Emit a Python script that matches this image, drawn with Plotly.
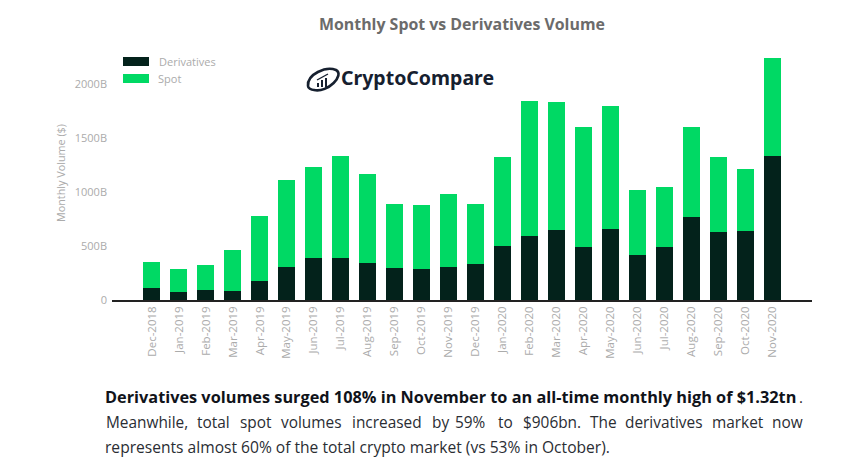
import plotly.graph_objects as go

meses = ['Dec-2018', 'Jan-2019', 'Feb-2019', 'Mar-2019', 'Apr-2019', 'May-2019', 'Jun-2019', 'Jul-2019',
         'Aug-2019', 'Sep-2019', 'Oct-2019', 'Nov-2019', 'Dec-2019', 'Jan-2020', 'Feb-2020', 'Mar-2020',
         'Apr-2020', 'May-2020', 'Jun-2020', 'Jul-2020', 'Aug-2020', 'Sep-2020', 'Oct-2020', 'Nov-2020']
derivatives = [110, 75, 95, 85, 175, 305, 390, 390, 345, 300, 290, 305,
               335, 500, 595, 645, 490, 655, 415, 490, 770, 630, 640, 1330]
spot = [240, 215, 230, 380, 605, 805, 840, 940, 820, 590, 590, 675,
        555, 820, 1245, 1185, 1110, 1145, 605, 555, 830, 690, 570, 910]
y_ticks = [0, 500, 1000, 1500, 2000]
y_labels = ['0', '500B', '1000B', '1500B', '2000B']

# posicao em pixels da imagem -> coordenadas paper
ESQ, DIR, TOPO, BASE = 112, 812, 50, 300
def px(x):
    return (x - ESQ) / (DIR - ESQ)
def py(y):
    return (BASE - y) / (BASE - TOPO)

CINZA = '#ababab'
ESCURO = '#03221b'
VERDE = '#00d964'
LOGO = '#16202f'

fig = go.Figure()
fig.add_bar(x=meses, y=derivatives, name='Derivatives', marker_color=ESCURO, marker_line_width=0)
fig.add_bar(x=meses, y=spot, name='Spot', marker_color=VERDE, marker_line_width=0)

fig.update_layout(
    barmode='stack', bargap=0.37, width=852, height=468, showlegend=False,
    margin=dict(l=ESQ, r=852 - DIR, t=TOPO, b=468 - BASE),
    paper_bgcolor='white', plot_bgcolor='white',
    font=dict(family='Open Sans', color=CINZA, size=11),
)
fig.update_xaxes(type='category', range=[-1.48, 24.48], tickangle=-90, showgrid=False, ticks='',
                 showline=True, linecolor='#222222', linewidth=1.5, tickfont=dict(size=11.5, color=CINZA))
fig.update_yaxes(range=[0, 2315], tickvals=y_ticks, ticktext=y_labels, showgrid=False, zeroline=False,
                 showline=False, ticks='', ticklabelstandoff=4, tickfont=dict(size=11, color=CINZA))

def texto(x, y, t, size, cor, anchor='left', bold=False, familia='Open Sans', angulo=0):
    fig.add_annotation(xref='paper', yref='paper', x=px(x), y=py(y), text=f'<b>{t}</b>' if bold else t,
                       showarrow=False, xanchor=anchor, yanchor='middle', textangle=angulo,
                       borderpad=0, borderwidth=0,
                       font=dict(size=size, color=cor, family=familia))

texto(462.5, 24, 'Monthly Spot vs Derivatives Volume', 15.9, '#6b6b6b', 'center', True)
texto(341, 77.5, 'CryptoCompare', 19.5, LOGO, bold=True, familia='Noto Sans')
texto(60, 173, 'Monthly Volume ($)', 10.8, CINZA, 'center', angulo=-90)

# legenda desenhada a mao, o swatch do plotly nao fica largo
for nome, cor, y0, x_txt in [('Derivatives', ESCURO, 57, 159), ('Spot', VERDE, 74, 158)]:
    fig.add_shape(type='rect', xref='paper', yref='paper', x0=px(123), x1=px(149), y0=py(y0), y1=py(y0 + 9),
                  fillcolor=cor, line_width=0)
    texto(x_txt, y0 + 4.5, nome, 11, CINZA)

# icone do logo
fig.add_shape(type='path', xref='paper', yref='paper', line=dict(color=LOGO, width=2.6),
              path=(f'M {px(308)} {py(86)} C {px(307)} {py(74)}, {px(326)} {py(66)}, {px(336)} {py(70)} '
                    f'C {px(345)} {py(75)}, {px(328)} {py(93)}, {px(314)} {py(90)} '
                    f'C {px(311)} {py(90)}, {px(308)} {py(88)}, {px(308)} {py(86)} Z'))
for x0, x1, y0 in [(317, 319, 83), (321, 323, 80), (325, 327, 78)]:
    fig.add_shape(type='rect', xref='paper', yref='paper', x0=px(x0), x1=px(x1), y0=py(y0), y1=py(87),
                  fillcolor=LOGO, line_width=0)
fig.add_shape(type='line', xref='paper', yref='paper', x0=px(317), y0=py(80), x1=px(328), y1=py(74),
              line=dict(color=LOGO, width=1.4))

# paragrafo abaixo do grafico
texto(105, 397, 'Derivatives volumes surged 108% in November to an all-time monthly high of $1.32tn', 16.3, '#10131a', bold=True)
texto(799, 397, '.', 15, '#222222')
linha2 = ['Meanwhile,', 'total', 'spot', 'volumes', 'increased', 'by', '59%', 'to', '$906bn.', 'The', 'derivatives', 'market', 'now']
linha2_x = [106, 197, 240, 281, 352, 432, 455, 498, 523, 590, 625, 712, 772]
for palavra, x in zip(linha2, linha2_x):
    texto(x, 422, palavra, 15.4, '#2a2d33')
texto(105, 447, 'represents almost 60% of the total crypto market (vs 53% in October).', 15.6, '#2a2d33')

fig.write_html("out.html", post_script="document.body.style.margin='0';", config={'displayModeBar': False})
